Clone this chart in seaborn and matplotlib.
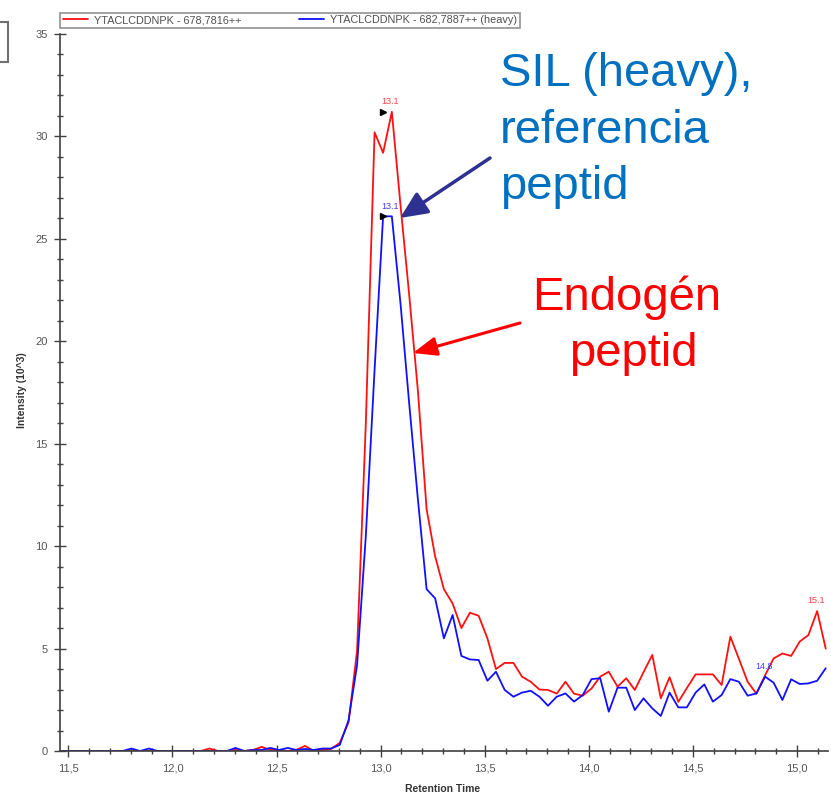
import numpy as np
import pandas as pd
import seaborn as sns
import matplotlib
matplotlib.use("Agg")
import matplotlib.pyplot as plt
from matplotlib.ticker import MultipleLocator, FuncFormatter
from matplotlib.lines import Line2D
from matplotlib.patches import Rectangle
from matplotlib.transforms import offset_copy

# ---------------- data ----------------
retention_time = [
    11.469, 11.511, 11.553, 11.595, 11.636, 11.678, 11.720, 11.761, 11.803, 11.845,
    11.887, 11.928, 11.970, 12.012, 12.053, 12.095, 12.137, 12.178, 12.220, 12.262,
    12.303, 12.345, 12.387, 12.429, 12.470, 12.512, 12.554, 12.595, 12.637, 12.679,
    12.720, 12.762, 12.804, 12.846, 12.887, 12.929, 12.971, 13.012, 13.054, 13.096,
    13.137, 13.179, 13.221, 13.262, 13.304, 13.346, 13.388, 13.429, 13.471, 13.513,
    13.554, 13.596, 13.638, 13.679, 13.721, 13.763, 13.804, 13.846, 13.888, 13.929,
    13.971, 14.013, 14.055, 14.096, 14.138, 14.180, 14.221, 14.263, 14.305, 14.346,
    14.388, 14.430, 14.471, 14.513, 14.555, 14.596, 14.638, 14.680, 14.721, 14.763,
    14.805, 14.847, 14.888, 14.930, 14.972, 15.013, 15.055, 15.097, 15.138,
]

endogenous = [
    0, 0, 0, 0, 0, 0, 0, 0, 0, 0,
    0, 0, 0, 0, 0, 0, 0, 0.12, 0, 0,
    0.05, 0, 0.05, 0.2, 0.05, 0.05, 0, 0.05, 0.25, 0,
    0.05, 0.1, 0.4, 1.4, 4.9, 16.0, 30.2, 29.2, 31.2, 26.6,
    22.3, 17.6, 11.8, 9.5, 7.9, 7.2, 6.0, 6.75, 6.6, 5.5,
    4.0, 4.3, 4.3, 3.63, 3.38, 3.0, 2.98, 2.8, 3.38, 2.8,
    2.7, 3.05, 3.63, 3.87, 3.14, 3.55, 2.98, 3.85, 4.69, 2.57,
    3.6, 2.4, 3.07, 3.74, 3.74, 3.74, 3.22, 5.58, 4.5, 3.38,
    2.8, 3.7, 4.52, 4.76, 4.64, 5.34, 5.66, 6.83, 5.0,
]

heavy = [
    0, 0, 0, 0, 0, 0, 0, 0, 0.12, 0,
    0.12, 0, 0, 0, 0, 0, 0, 0, 0, 0,
    0.15, 0, 0.05, 0.05, 0.15, 0.05, 0.15, 0.05, 0.1, 0.05,
    0.12, 0.12, 0.3, 1.5, 4.2, 10.5, 18.6, 26.1, 26.1, 21.8,
    17.0, 12.3, 7.9, 7.45, 5.5, 6.64, 4.64, 4.47, 4.44, 3.43,
    3.87, 2.98, 2.65, 2.85, 2.94, 2.65, 2.21, 2.65, 2.81, 2.41,
    2.73, 3.51, 3.55, 1.92, 3.09, 3.09, 2.0, 2.57, 2.08, 1.71,
    2.85, 2.13, 2.13, 2.85, 3.25, 2.41, 2.73, 3.51, 3.38, 2.7,
    2.81, 3.63, 3.33, 2.49, 3.5, 3.27, 3.3, 3.43, 4.04,
]

series_labels = ["YTACLCDDNPK - 678,7816++", "YTACLCDDNPK - 682,7887++ (heavy)"]
series_colors = ["#FF1010", "#1010FF"]

# peak labels: (series index, label text, retention time of the labelled point)
peak_labels = [(0, "13.1", 13.054), (1, "13.1", 13.054), (1, "14.8", 14.847), (0, "15.1", 15.097)]
peak_markers = [(0, 13.054), (1, 13.054)]

# ---------------- figure ----------------
sns.set_theme(style="white")
plt.rcParams["font.family"] = ["Liberation Sans", "DejaVu Sans"]

W, H = 831, 797
fig = plt.figure(figsize=(W / 100, H / 100), dpi=100)


def fx(px):
    return px / W


def fy(py):
    return 1 - py / H


ax = fig.add_axes([fx(60), fy(751), (828 - 60) / W, (751 - 34) / H])

n = len(retention_time)
df = pd.DataFrame({
    "time": retention_time * 2,
    "intensity": endogenous + heavy,
    "trace": [series_labels[0]] * n + [series_labels[1]] * n,
})
sns.lineplot(data=df, x="time", y="intensity", hue="trace",
             palette=dict(zip(series_labels, series_colors)),
             hue_order=series_labels, estimator=None, sort=False,
             linewidth=1.3, legend=False, ax=ax)

ax.set_xlim(11.46, 15.149)
ax.set_ylim(0, 35)

# spines / ticks
for s in ["top", "right"]:
    ax.spines[s].set_visible(False)
for s in ["left", "bottom"]:
    ax.spines[s].set_color("#404040")
    ax.spines[s].set_linewidth(1.2)

ax.xaxis.set_major_locator(MultipleLocator(0.5))
ax.xaxis.set_minor_locator(MultipleLocator(0.1))
ax.yaxis.set_major_locator(MultipleLocator(5))
ax.yaxis.set_minor_locator(MultipleLocator(1))
ax.xaxis.set_major_formatter(FuncFormatter(lambda v, p: f"{v:.1f}".replace(".", ",")))
ax.yaxis.set_major_formatter(FuncFormatter(lambda v, p: f"{v:.0f}"))
ax.tick_params(which="both", bottom=True, left=True, direction="inout",
               color="#404040", width=1.0)
ax.tick_params(which="major", length=8, labelsize=8, labelcolor="#555555", pad=5)
ax.tick_params(which="minor", length=5)

ax.set_xlabel("Retention Time", fontsize=7.5, fontweight="bold", color="#333333")
ax.set_ylabel("Intensity (10^3)", fontsize=7.5, fontweight="bold", color="#333333")
ax.xaxis.set_label_coords((443 - 60) / 768, (751 - 784) / 717)
ax.yaxis.set_label_coords((27 - 60) / 768, (751 - 390) / 717)

# legend
handles = [Line2D([], [], color=c, lw=1.3) for c in series_colors]
leg = ax.legend(handles, series_labels, loc="lower left",
                bbox_to_anchor=(0, (751 - 28) / 717, (520 - 60) / 768, 0.02),
                mode="expand", ncol=2, fontsize=7.85, frameon=True, fancybox=False,
                edgecolor="#808080", handlelength=2.3, handletextpad=0.6,
                borderpad=0.25, borderaxespad=0)
leg.get_frame().set_linewidth(1.3)
for t in leg.get_texts():
    t.set_color("#505050")

# peak labels
series_values = [endogenous, heavy]
for si, txt, t in peak_labels:
    i = retention_time.index(t)
    ax.annotate(txt, xy=(t, series_values[si][i]), xytext=(-1, 5.5),
                textcoords="offset points", ha="center", va="baseline",
                fontsize=6.5, color=["#FF4040", "#4040FF"][si])
mark_tr = offset_copy(ax.transData, fig=fig, x=-6.5, y=0, units="points")
for si, t in peak_markers:
    i = retention_time.index(t)
    ax.plot([t], [series_values[si][i]], marker=">", color="black",
            markersize=5, transform=mark_tr, linestyle="none")

# big annotations
blue_txt = "#0070C0"
red_txt = "#FF0000"
fs = 34
fig.text(fx(500), fy(86), "SIL (heavy),", fontsize=fs, color=blue_txt, ha="left", va="baseline")
fig.text(fx(500), fy(143), "referencia", fontsize=fs, color=blue_txt, ha="left", va="baseline")
fig.text(fx(500), fy(199), "peptid", fontsize=fs, color=blue_txt, ha="left", va="baseline")
fig.text(fx(627), fy(310), "Endogén", fontsize=fs, color=red_txt, ha="center", va="baseline")
fig.text(fx(633), fy(366), "peptid", fontsize=fs, color=red_txt, ha="center", va="baseline")

ax.annotate("", xy=(fx(400), fy(218)), xycoords="figure fraction",
            xytext=(fx(490), fy(158)), textcoords="figure fraction",
            arrowprops=dict(arrowstyle="-|>,head_length=0.55,head_width=0.25",
                            mutation_scale=30, color="#2E3192", lw=2.5,
                            shrinkA=0, shrinkB=0))
ax.annotate("", xy=(fx(413), fy(353)), xycoords="figure fraction",
            xytext=(fx(520), fy(323)), textcoords="figure fraction",
            arrowprops=dict(arrowstyle="-|>,head_length=0.55,head_width=0.22",
                            mutation_scale=26, color="#FF0000", lw=2.2,
                            shrinkA=0, shrinkB=0))

# window-edge artifact at top left
fig.patches.append(Rectangle((fx(-2), fy(62)), 10 / W, 40 / H, transform=fig.transFigure,
                             facecolor="white", edgecolor="#707070", lw=1.5))

fig.savefig("out.png", dpi=100)
